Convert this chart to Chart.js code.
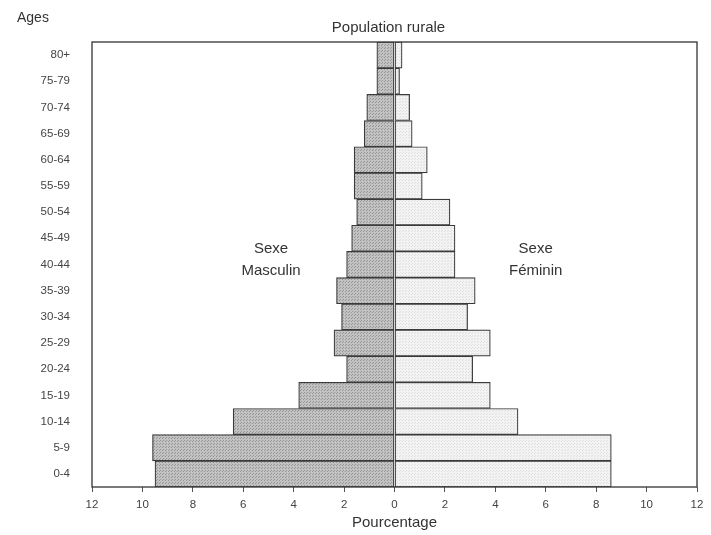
<!DOCTYPE html>
<html>
<head>
    <title>Population rurale</title>
    <meta charset="utf-8" />
    <script src="https://cdn.jsdelivr.net/npm/chart.js"></script>
    <style>
        html, body { margin: 0; padding: 0; background: #fff; }
        #wrap { width: 711px; height: 535px; }
    </style>
</head>
<body>
    <div id="wrap"><canvas id="chart"></canvas></div>
    <script>
        // tranches d'age, du haut vers le bas
        var ages = ['80+', '75-79', '70-74', '65-69', '60-64', '55-59', '50-54', '45-49', '40-44',
                    '35-39', '30-34', '25-29', '20-24', '15-19', '10-14', '5-9', '0-4'];
        // pourcentages
        var masculin = [0.7, 0.7, 1.1, 1.2, 1.6, 1.6, 1.5, 1.7, 1.9, 2.3, 2.1, 2.4, 1.9, 3.8, 6.4, 9.6, 9.5];
        var feminin = [0.3, 0.2, 0.6, 0.7, 1.3, 1.1, 2.2, 2.4, 2.4, 3.2, 2.9, 3.8, 3.1, 3.8, 4.9, 8.6, 8.6];
        var xTicks = [-12, -10, -8, -6, -4, -2, 0, 2, 4, 6, 8, 10, 12];

        var FONT = 'Liberation Sans, Arial, sans-serif';

        // trame pointillée comme sur l'original
        function dots(base, dot) {
            var c = document.createElement('canvas');
            c.width = 3; c.height = 3;
            var g = c.getContext('2d');
            g.fillStyle = base;
            g.fillRect(0, 0, 3, 3);
            g.fillStyle = dot;
            g.fillRect(0, 0, 1, 1);
            g.fillRect(1, 2, 1, 1);
            return g.createPattern(c, 'repeat');
        }
        var ctx = document.getElementById('chart').getContext('2d');

        var textes = {
            id: 'textes',
            afterDraw: function(chart) {
                var c = chart.ctx, a = chart.chartArea;
                var sx = chart.scales.x, sy = chart.scales.y;
                c.save();
                // cadre
                c.strokeStyle = '#333';
                c.lineWidth = 1.3;
                c.strokeRect(a.left, a.top, a.right - a.left, a.bottom - a.top);
                c.fillStyle = '#333';
                c.font = '14px ' + FONT;
                c.textAlign = 'left';
                c.textBaseline = 'middle';
                c.fillText('Ages', 17, 18);
                c.textAlign = 'center';
                c.font = '15px ' + FONT;
                c.fillText('Population rurale', (a.left + a.right) / 2 - 6, 28);
                c.fillText('Pourcentage', sx.getPixelForValue(0), 523);
                var ym = (sy.getPixelForValue(7) + sy.getPixelForValue(8)) / 2;
                c.fillText('Sexe', sx.getPixelForValue(-4.9), ym - 3);
                c.fillText('Masculin', sx.getPixelForValue(-4.9), ym + 19);
                c.fillText('Sexe', sx.getPixelForValue(5.6), ym - 3);
                c.fillText('Féminin', sx.getPixelForValue(5.6), ym + 19);
                c.restore();
            }
        };

        new Chart(ctx, {
            type: 'bar',
            data: {
                labels: ages,
                datasets: [{
                    label: 'Sexe Masculin',
                    data: masculin.map(function(v) { return -v; }),
                    backgroundColor: dots('#c2c2c2', '#959595'),
                    borderColor: '#3a3a3a',
                    borderWidth: 1.2,
                    borderSkipped: false,
                    barPercentage: 1,
                    categoryPercentage: 1
                }, {
                    label: 'Sexe Féminin',
                    data: feminin,
                    backgroundColor: dots('#f3f3f3', '#dedede'),
                    borderColor: '#3a3a3a',
                    borderWidth: 1.2,
                    borderSkipped: false,
                    barPercentage: 1,
                    categoryPercentage: 1
                }]
            },
            options: {
                indexAxis: 'y',
                responsive: true,
                maintainAspectRatio: false,
                animation: false,
                layout: { padding: { left: 8, right: 14, top: 42, bottom: 5 } },
                plugins: {
                    legend: { display: false },
                    tooltip: { enabled: false }
                },
                scales: {
                    x: {
                        stacked: true,
                        min: -12,
                        max: 12,
                        afterBuildTicks: function(axis) {
                            axis.ticks = xTicks.map(function(v) { return { value: v }; });
                        },
                        afterFit: function(axis) { axis.height = 43; },
                        grid: { display: true, drawOnChartArea: false, drawTicks: true, tickLength: 5, color: '#555' },
                        border: { display: false },
                        ticks: {
                            color: '#444',
                            font: { family: FONT, size: 11.5 },
                            padding: 6,
                            maxRotation: 0,
                            callback: function(v) { return Math.abs(v); }
                        }
                    },
                    y: {
                        stacked: true,
                        afterFit: function(axis) { axis.width = 84; },
                        grid: { display: false },
                        border: { display: false },
                        ticks: {
                            color: '#444',
                            font: { family: FONT, size: 11.5 },
                            padding: 14,
                            autoSkip: false
                        }
                    }
                }
            },
            plugins: [textes]
        });
    </script>
</body>
</html>
